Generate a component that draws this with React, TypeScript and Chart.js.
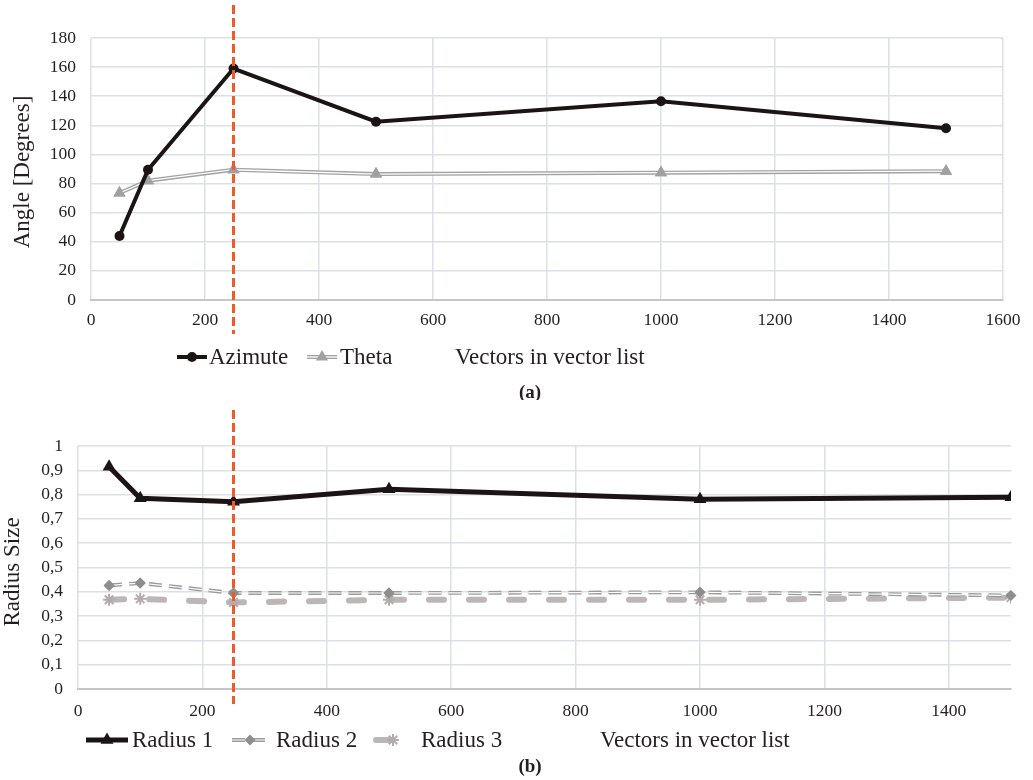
import React, { useEffect, useRef } from 'react';
import { Chart, registerables, PointElement } from 'chart.js';

Chart.register(...registerables);

const FONT = "'Liberation Serif', 'Times New Roman', Times, serif";
const INK = '#231f20';
const GRID = '#dcdfe5';
const AXIS = '#c6c6c6';
const RED = '#ee5a2f';

// ---------- Chart (a) ----------
const vectorsA = [50, 100, 250, 500, 1000, 1500];
const azimute = [44, 89.5, 159, 122.5, 136.5, 118];
const theta = [73.5, 82, 89.5, 86.5, 87.5, 88.5];
const xTicksA = [0, 200, 400, 600, 800, 1000, 1200, 1400, 1600];
const yTicksA = [0, 20, 40, 60, 80, 100, 120, 140, 160, 180];

// ---------- Chart (b) ----------
const vectorsB = [50, 100, 250, 500, 1000, 1500];
const radius1 = [0.915, 0.785, 0.771, 0.822, 0.781, 0.789];
const radius2 = [0.426, 0.436, 0.395, 0.395, 0.398, 0.385];
const radius3 = [0.367, 0.371, 0.356, 0.367, 0.367, 0.376];
const xTicksB = [0, 200, 400, 600, 800, 1000, 1200, 1400];
const yTicksB = [0, 0.1, 0.2, 0.3, 0.4, 0.5, 0.6, 0.7, 0.8, 0.9, 1];
const yTickLabelsB = ['0', '0,1', '0,2', '0,3', '0,4', '0,5', '0,6', '0,7', '0,8', '0,9', '1'];

const thresholdValue = 250;
const xTitle = 'Vectors in vector list';

const BIG_AREA = { left: -1e5, right: 1e5, top: -1e5, bottom: 1e5 };

const doubleLinePlugin = {
  id: 'doubleLine',
  afterDatasetDraw(chart: any, args: any) {
    const ds = chart.data.datasets[args.index];
    if (!ds.innerColor) return;
    const pts = args.meta.data;
    const ctx = chart.ctx;
    ctx.save();
    ctx.strokeStyle = ds.innerColor;
    ctx.lineWidth = ds.innerWidth;
    ctx.setLineDash(ds.borderDash || []);
    ctx.lineCap = 'butt';
    ctx.lineJoin = 'miter';
    ctx.beginPath();
    pts.forEach((p: any, i: number) => (i ? ctx.lineTo(p.x, p.y) : ctx.moveTo(p.x, p.y)));
    ctx.stroke();
    ctx.restore();
    ctx.save();
    ctx.setLineDash([]);
    pts.forEach((p: any) => p.draw(ctx, BIG_AREA));
    ctx.restore();
  },
};

function drawMarker(ctx: any, ds: any, x: number, y: number) {
  const pe: any = new (PointElement as any)({
    x,
    y,
    options: {
      radius: ds.pointRadius,
      pointStyle: ds.pointStyle,
      rotation: 0,
      borderWidth: ds.pointBorderWidth,
      borderColor: ds.pointBorderColor,
      backgroundColor: ds.pointBackgroundColor,
    },
  });
  ctx.save();
  ctx.setLineDash([]);
  pe.draw(ctx, BIG_AREA);
  ctx.restore();
}

function makeOverlay(cfg: any) {
  return {
    id: 'overlay',
    afterDraw(chart: any) {
      const ctx = chart.ctx;
      // red threshold line
      const xr = chart.scales.x.getPixelForValue(thresholdValue);
      ctx.save();
      ctx.strokeStyle = RED;
      ctx.lineWidth = 3;
      ctx.setLineDash([9, 4]);
      ctx.beginPath();
      ctx.moveTo(xr, cfg.markerTop);
      ctx.lineTo(xr, cfg.markerBottom);
      ctx.stroke();
      ctx.restore();

      // y title
      ctx.save();
      ctx.fillStyle = INK;
      ctx.font = `${cfg.yTitle.size}px ${FONT}`;
      ctx.textAlign = 'center';
      ctx.textBaseline = 'middle';
      ctx.translate(cfg.yTitle.x, cfg.yTitle.y);
      ctx.rotate(-Math.PI / 2);
      ctx.fillText(cfg.yTitle.text, 0, 0);
      ctx.restore();

      // legend
      cfg.legend.forEach((it: any, i: number) => {
        const ds = chart.data.datasets[i];
        const y = cfg.legendY;
        ctx.save();
        ctx.strokeStyle = ds.borderColor;
        ctx.lineWidth = ds.borderWidth;
        ctx.setLineDash(ds.borderDash || []);
        ctx.lineCap = ds.borderCapStyle || 'butt';
        ctx.beginPath();
        ctx.moveTo(it.x0, y);
        ctx.lineTo(it.x1, y);
        ctx.stroke();
        if (ds.innerColor) {
          ctx.strokeStyle = ds.innerColor;
          ctx.lineWidth = ds.innerWidth;
          ctx.lineCap = 'butt';
          ctx.beginPath();
          ctx.moveTo(it.x0, y);
          ctx.lineTo(it.x1, y);
          ctx.stroke();
        }
        ctx.restore();
        drawMarker(ctx, ds, it.mx, y);
        ctx.save();
        ctx.fillStyle = INK;
        ctx.font = `${cfg.legendSize}px ${FONT}`;
        ctx.textAlign = 'left';
        ctx.textBaseline = 'middle';
        ctx.fillText(ds.label, it.tx, y + 1);
        ctx.restore();
      });

      // x title
      ctx.save();
      ctx.fillStyle = INK;
      ctx.font = `${cfg.legendSize}px ${FONT}`;
      ctx.textAlign = 'left';
      ctx.textBaseline = 'middle';
      ctx.fillText(xTitle, cfg.xTitleX, cfg.legendY + 1);
      // caption
      ctx.font = `bold 19px ${FONT}`;
      ctx.textAlign = 'center';
      ctx.fillText(cfg.caption, cfg.captionX, cfg.captionY);
      ctx.restore();
    },
  };
}

const tickFont = { family: FONT, size: 17.5 };

function baseScales(opts: any) {
  return {
    x: {
      type: 'linear',
      min: opts.xMin,
      max: opts.xMax,
      afterBuildTicks: (s: any) => {
        s.ticks = opts.xTicks.map((v: number) => ({ value: v }));
      },
      afterFit: (s: any) => {
        s.height = opts.xHeight;
      },
      grid: { color: GRID, lineWidth: 1.5, drawTicks: false },
      border: { color: AXIS, width: 2 },
      ticks: {
        font: tickFont,
        color: INK,
        padding: opts.xPad,
        maxRotation: 0,
        autoSkip: false,
        callback: (v: number) => String(v),
      },
    },
    y: {
      type: 'linear',
      min: opts.yMin,
      max: opts.yMax,
      afterBuildTicks: (s: any) => {
        s.ticks = opts.yTicks.map((v: number) => ({ value: v }));
      },
      afterFit: (s: any) => {
        s.width = opts.yWidth;
      },
      grid: { color: GRID, lineWidth: 1.5, drawTicks: false },
      border: { display: false },
      ticks: {
        font: tickFont,
        color: INK,
        padding: 15,
        autoSkip: false,
        callback: opts.yCallback,
      },
    },
  };
}

function toXY(xs: number[], ys: number[]) {
  return xs.map((x, i) => ({ x, y: ys[i] }));
}

function ChartA() {
  const ref = useRef<HTMLCanvasElement>(null);
  useEffect(() => {
    const chart = new Chart(ref.current as HTMLCanvasElement, {
      type: 'line',
      data: {
        datasets: [
          {
            label: 'Azimute',
            data: toXY(vectorsA, azimute),
            borderColor: '#1c1414',
            borderWidth: 4,
            tension: 0,
            pointStyle: 'circle',
            pointRadius: 5,
            pointBackgroundColor: '#1c1414',
            pointBorderColor: '#1c1414',
            pointBorderWidth: 0,
          },
          {
            label: 'Theta',
            data: toXY(vectorsA, theta),
            borderColor: '#a2a2a2',
            borderWidth: 4,
            innerColor: '#ffffff',
            innerWidth: 1.3,
            tension: 0,
            pointStyle: 'triangle',
            pointRadius: 7,
            pointBackgroundColor: '#a0a0a0',
            pointBorderColor: '#a0a0a0',
            pointBorderWidth: 0,
          },
        ] as any,
      },
      options: {
        animation: false,
        responsive: false,
        maintainAspectRatio: false,
        layout: { padding: { left: 0, top: 38, right: 30, bottom: 0 } },
        plugins: { legend: { display: false }, tooltip: { enabled: false } },
        scales: baseScales({
          xMin: 0,
          xMax: 1600,
          xTicks: xTicksA,
          xHeight: 100,
          xPad: 10,
          yMin: 0,
          yMax: 180,
          yTicks: yTicksA,
          yWidth: 91,
          yCallback: (v: number) => String(v),
        }) as any,
      },
      plugins: [
        doubleLinePlugin,
        makeOverlay({
          markerTop: 5,
          markerBottom: 334,
          yTitle: { text: 'Angle [Degrees]', x: 23, y: 172, size: 23 },
          legendY: 357,
          legendSize: 23,
          legend: [
            { x0: 177, x1: 207, mx: 192, tx: 209 },
            { x0: 307, x1: 337, mx: 322, tx: 340 },
          ],
          xTitleX: 455,
          caption: '(a)',
          captionX: 530,
          captionY: 393,
        }),
      ],
    });
    return () => chart.destroy();
  }, []);
  return (
    <canvas
      ref={ref}
      width={1033}
      height={400}
      style={{ position: 'absolute', left: 0, top: 0, width: 1033, height: 400, display: 'block' }}
    />
  );
}

function ChartB() {
  const ref = useRef<HTMLCanvasElement>(null);
  useEffect(() => {
    const chart = new Chart(ref.current as HTMLCanvasElement, {
      type: 'line',
      data: {
        datasets: [
          {
            label: 'Radius 1',
            data: toXY(vectorsB, radius1),
            borderColor: '#1c1414',
            borderWidth: 5,
            tension: 0,
            pointStyle: 'triangle',
            pointRadius: 7.5,
            pointBackgroundColor: '#1c1414',
            pointBorderColor: '#1c1414',
            pointBorderWidth: 0,
          },
          {
            label: 'Radius 2',
            data: toXY(vectorsB, radius2),
            borderColor: '#9a9a9a',
            borderWidth: 3.8,
            borderDash: [13, 7],
            innerColor: '#ffffff',
            innerWidth: 1.2,
            tension: 0,
            pointStyle: 'rectRot',
            pointRadius: 5.5,
            pointBackgroundColor: '#8e8e8e',
            pointBorderColor: '#8e8e8e',
            pointBorderWidth: 0,
          },
          {
            label: 'Radius 3',
            data: toXY(vectorsB, radius3),
            borderColor: '#bdb6b6',
            borderWidth: 6,
            borderDash: [15, 25],
            borderCapStyle: 'round',
            tension: 0,
            pointStyle: 'star',
            pointRadius: 6,
            pointBackgroundColor: '#b3acac',
            pointBorderColor: '#b3acac',
            pointBorderWidth: 2,
          },
        ] as any,
      },
      options: {
        animation: false,
        responsive: false,
        maintainAspectRatio: false,
        layout: { padding: { left: 0, top: 46, right: 22, bottom: 0 } },
        plugins: { legend: { display: false }, tooltip: { enabled: false } },
        scales: baseScales({
          xMin: 0,
          xMax: 1500,
          xTicks: xTicksB,
          xHeight: 91,
          xPad: 11.5,
          yMin: 0,
          yMax: 1,
          yTicks: yTicksB,
          yWidth: 78,
          yCallback: (_v: number, i: number) => yTickLabelsB[i],
        }) as any,
      },
      plugins: [
        doubleLinePlugin,
        makeOverlay({
          markerTop: 10,
          markerBottom: 304,
          yTitle: { text: 'Radius Size', x: 13, y: 172, size: 23 },
          legendY: 340,
          legendSize: 23,
          legend: [
            { x0: 86, x1: 128, mx: 107, tx: 132 },
            { x0: 232, x1: 266, mx: 250, tx: 276 },
            { x0: 376, x1: 400, mx: 393, tx: 421 },
          ],
          xTitleX: 600,
          caption: '(b)',
          captionX: 530,
          captionY: 367,
        }),
      ],
    });
    return () => chart.destroy();
  }, []);
  return (
    <canvas
      ref={ref}
      width={1033}
      height={380}
      style={{ position: 'absolute', left: 0, top: 400, width: 1033, height: 380, display: 'block' }}
    />
  );
}

export default function App() {
  return (
    <div
      style={{
        position: 'absolute',
        left: 0,
        top: 0,
        width: 1033,
        height: 780,
        background: '#ffffff',
        overflow: 'hidden',
      }}
    >
      <ChartA />
      <ChartB />
    </div>
  );
}
